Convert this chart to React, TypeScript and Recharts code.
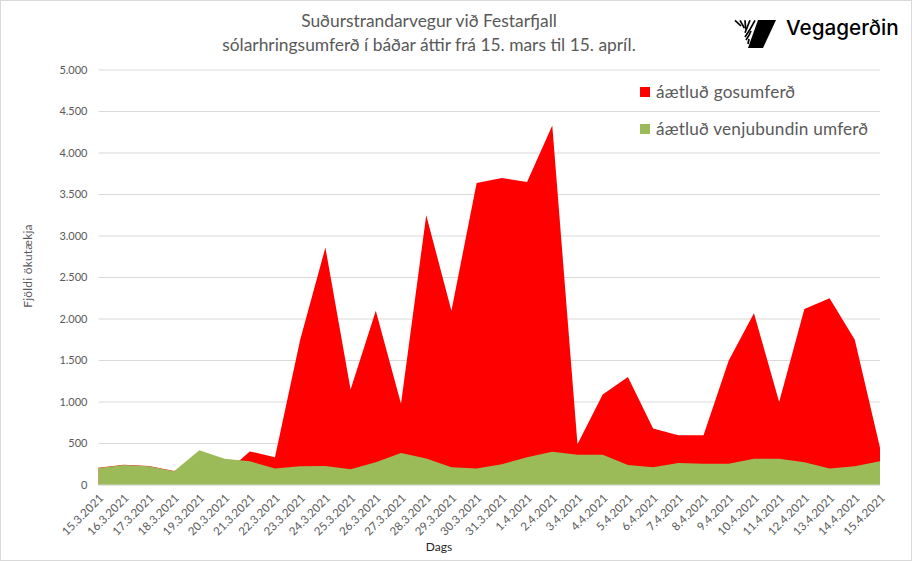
import React from "react";
import { AreaChart, Area, XAxis, YAxis, CartesianGrid, Legend, Label } from "recharts";

const dates = ["15.3.2021","16.3.2021","17.3.2021","18.3.2021","19.3.2021","20.3.2021","21.3.2021","22.3.2021","23.3.2021","24.3.2021","25.3.2021","26.3.2021","27.3.2021","28.3.2021","29.3.2021","30.3.2021","31.3.2021","1.4.2021","2.4.2021","3.4.2021","4.4.2021","5.4.2021","6.4.2021","7.4.2021","8.4.2021","9.4.2021","10.4.2021","11.4.2021","12.4.2021","13.4.2021","14.4.2021","15.4.2021"];
const eruption = [208,243,228,170,300,135,405,335,1750,2860,1150,2100,980,3250,2100,3640,3700,3650,4330,490,1090,1300,680,600,600,1500,2070,1000,2120,2250,1750,450];
const normal = [205,240,225,165,420,315,285,200,225,228,190,275,385,320,215,200,250,335,400,365,365,240,215,265,255,255,315,315,275,200,225,285];
const yTicks = [0,500,1000,1500,2000,2500,3000,3500,4000,4500,5000];
const titleLines = ["Suðurstrandarvegur við Festarfjall","sólarhringsumferð í báðar áttir frá 15. mars til 15. apríl."];
const eruptionName = "áætluð gosumferð";
const normalName = "áætluð venjubundin umferð";
const logoName = "Vegagerðin";
const xAxisTitle = "Dags";
const yAxisTitle = "Fjöldi ökutækja";

const rows = dates.map((d, i) => ({ date: d, eruption: eruption[i], normal: normal[i] }));
const FONT = "Lato, 'Open Sans', sans-serif";
const fmt = (v: number) => (v < 1000 ? String(v) : `${Math.floor(v / 1000)}.${String(v % 1000).padStart(3, "0")}`);

const LegendBox = ({ payload }: any) => (
  <div style={{ fontFamily: FONT }}>
    {(payload || []).map((p: any) => (
      <div key={p.value} style={{ display: "flex", alignItems: "center", height: 37, fontSize: 17.2, color: "#595959", letterSpacing: 0.2 }}>
        <span style={{ width: 10, height: 10, background: p.color, marginRight: 6, display: "inline-block" }} />
        {p.value}
      </div>
    ))}
  </div>
);

const logoStrokes = ["M2 2.3L8 8", "M7 2.3L11.3 10", "M12 2.3L12.7 11.3", "M17 2.3L12 14.7", "M22 2.3Q17 12 12 19", "M18 13Q16 18 13 22", "M16 21L15 26"];

const Logo = () => (
  <div style={{ position: "absolute", left: 733, top: 18, width: 170, height: 32 }}>
    <svg width="44" height="32" viewBox="0 0 44 32" style={{ position: "absolute", left: 0, top: 0 }}>
      <polygon points="25,2 43,2 30,30 15,30" fill="#000" />
      {logoStrokes.map((d) => <path key={d} d={d} stroke="#000" strokeWidth={1.7} fill="none" />)}
    </svg>
    <div style={{ position: "absolute", left: 53, top: -6, fontFamily: "Inter, sans-serif", fontWeight: 500, fontSize: 20.7, color: "#000", lineHeight: "32px", whiteSpace: "nowrap" }}>{logoName}</div>
  </div>
);

export default function App() {
  return (
    <div style={{ position: "absolute", left: 0, top: 0, width: 912, height: 561, background: "#fff" }}>
      <AreaChart width={912} height={561} data={rows} margin={{ top: 70, right: 32, bottom: 0, left: 0 }}>
        <CartesianGrid horizontal vertical={false} stroke="#D9D9D9" strokeWidth={1} />
        <XAxis dataKey="date" height={76} interval={0} angle={-45} textAnchor="end" tickLine={false} tickMargin={2}
          axisLine={{ stroke: "#D9D9D9" }} tick={{ fill: "#595959", fontSize: 11.5, letterSpacing: 0.1, fontFamily: FONT, dx: 0 }}>
          <Label content={() => <text x={439} y={551} textAnchor="middle" fill="#262626" fontSize={12} fontFamily={FONT}>{xAxisTitle}</text>} />
        </XAxis>
        <YAxis width={98.5} domain={[0, 5000]} ticks={yTicks} tickFormatter={fmt} axisLine={false} tickLine={false} tickMargin={5}
          tick={{ fill: "#595959", fontSize: 11, fontFamily: FONT }}>
          <Label content={() => <text transform="translate(32 266) rotate(-90)" textAnchor="middle" fill="#595959" fontSize={12} letterSpacing={0.2} fontFamily={FONT}>{yAxisTitle}</text>} />
        </YAxis>
        <Area name={eruptionName} dataKey="eruption" type="linear" fill="#FF0000" fillOpacity={1} stroke="none" dot={false} activeDot={false} isAnimationActive={false} />
        <Area name={normalName} dataKey="normal" type="linear" fill="#9BBB59" fillOpacity={1} stroke="none" dot={false} activeDot={false} isAnimationActive={false} />
        <Legend content={<LegendBox />} layout="vertical" align="center" verticalAlign="middle" wrapperStyle={{ position: "absolute", left: 640, top: 73, width: 250, bottom: "auto", right: "auto" }} />
      </AreaChart>
      <div style={{ position: "absolute", left: 0, top: 9, width: 858, textAlign: "center", fontFamily: FONT, fontSize: 17.4, lineHeight: "24px", color: "#595959" }}>
        {titleLines.map((t) => <div key={t}>{t}</div>)}
      </div>
      <Logo />
      <div style={{ position: "absolute", inset: 0, border: "1px solid #D9D9D9", pointerEvents: "none" }} />
    </div>
  );
}
